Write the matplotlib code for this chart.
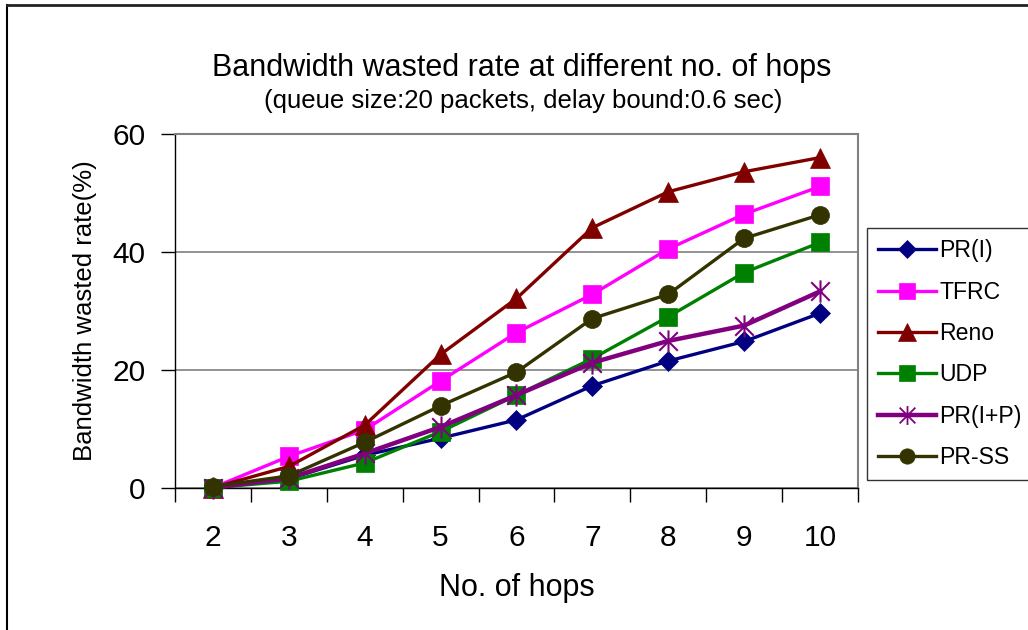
import matplotlib
matplotlib.use("Agg")
import matplotlib.pyplot as plt
from matplotlib.path import Path
from matplotlib.lines import Line2D
import numpy as np

plt.rcParams["font.family"] = ["Liberation Sans", "DejaVu Sans"]

hops = ["2", "3", "4", "5", "6", "7", "8", "9", "10"]

pr_i = [0.0, 1.5, 5.5, 8.4, 11.5, 17.3, 21.5, 24.8, 29.6]
tfrc = [0.0, 5.3, 9.8, 18.1, 26.3, 32.8, 40.5, 46.4, 51.1]
reno = [0.0, 3.6, 10.6, 22.6, 32.1, 44.1, 50.2, 53.6, 56.0]
udp = [0.0, 1.1, 4.2, 9.5, 15.7, 21.9, 29.0, 36.5, 41.6]
pr_ip = [0.0, 1.6, 5.8, 10.3, 15.7, 21.2, 24.9, 27.5, 33.3]
pr_ss = [0.2, 2.0, 7.7, 13.9, 19.6, 28.7, 32.8, 42.3, 46.3]

# asterisk: X with a vertical bar
asterisk = Path(
    [(-0.5, -0.5), (0.5, 0.5), (-0.5, 0.5), (0.5, -0.5), (0, -0.6), (0, 0.6)],
    [Path.MOVETO, Path.LINETO, Path.MOVETO, Path.LINETO, Path.MOVETO, Path.LINETO],
)

series = [
    ("PR(I)", pr_i, "#000080", "D", 10.5, 2.4),
    ("TFRC", tfrc, "#FF00FF", "s", 13, 2.4),
    ("Reno", reno, "#800000", "^", 15, 2.4),
    ("UDP", udp, "#008000", "s", 13, 2.4),
    ("PR(I+P)", pr_ip, "#800080", asterisk, 16, 3.2),
    ("PR-SS", pr_ss, "#333300", "o", 13, 2.4),
]

fig = plt.figure(figsize=(10.28, 6.30), dpi=100)
ax = fig.add_axes([0.1702, 0.2259, 0.6644, 0.5614])

x = np.arange(len(hops))
handles = []
for name, vals, color, marker, ms, lw in series:
    ax.plot(x, vals, color=color, lw=lw, marker=marker, ms=ms,
            markerfacecolor=color, markeredgecolor=color,
            markeredgewidth=1.5 if marker is asterisk else 0.5, zorder=3,
            clip_on=False)
    handles.append(Line2D([], [], color=color, lw=lw, marker=marker,
                          ms=ms * 0.85, markerfacecolor=color,
                          markeredgecolor=color,
                          markeredgewidth=1.3 if marker is asterisk else 0.5,
                          label=name))

ax.set_xlim(-0.5, len(hops) - 0.5)
ax.set_ylim(0, 60)
ax.set_yticks([0, 20, 40, 60])
ax.set_xticks(x)
ax.set_xticklabels(hops)
ax.set_xticks(np.arange(-0.5, len(hops)), minor=True)
ax.tick_params(axis="x", which="major", length=0, pad=26, labelsize=21.5)
ax.tick_params(axis="x", which="minor", length=10, width=1.0, direction="out")
ax.tick_params(axis="y", length=10, width=1.0, direction="out", pad=11,
               labelsize=21.5)

ax.grid(axis="y", color="#808080", lw=1.2, zorder=1)
for side in ("top", "right"):
    ax.spines[side].set_color("#808080")
    ax.spines[side].set_linewidth(1.5)
for side in ("left", "bottom"):
    ax.spines[side].set_color("black")
    ax.spines[side].set_linewidth(1.0)

ax.set_xlabel("No. of hops", fontsize=22, labelpad=15)
ax.set_ylabel("Bandwidth wasted rate(%)", fontsize=18.5, labelpad=11)

fig.text(0.5073, 0.8794, "Bandwidth wasted rate at different no. of hops",
         ha="center", va="baseline", fontsize=22)
fig.text(0.509, 0.8286, "(queue size:20 packets, delay bound:0.6 sec)",
         ha="center", va="baseline", fontsize=18.5)

leg = fig.legend(handles=handles, loc="upper left",
                 bbox_to_anchor=(0.8434, 0.638), borderaxespad=0,
                 fontsize=16.6, frameon=True, fancybox=False,
                 handlelength=2.5, labelspacing=0.8, handletextpad=0.15,
                 borderpad=0.48)
leg.get_frame().set_edgecolor("black")
leg.get_frame().set_linewidth(1.0)

# outer border of the chart area (left and top edges only)
fig.add_artist(Line2D([0.007, 0.007], [0, 0.992], transform=fig.transFigure,
                      color="black", lw=1.5))
fig.add_artist(Line2D([0.007, 1.0], [0.992, 0.992], transform=fig.transFigure,
                      color="#222222", lw=2))

fig.savefig("out.png", dpi=100)
